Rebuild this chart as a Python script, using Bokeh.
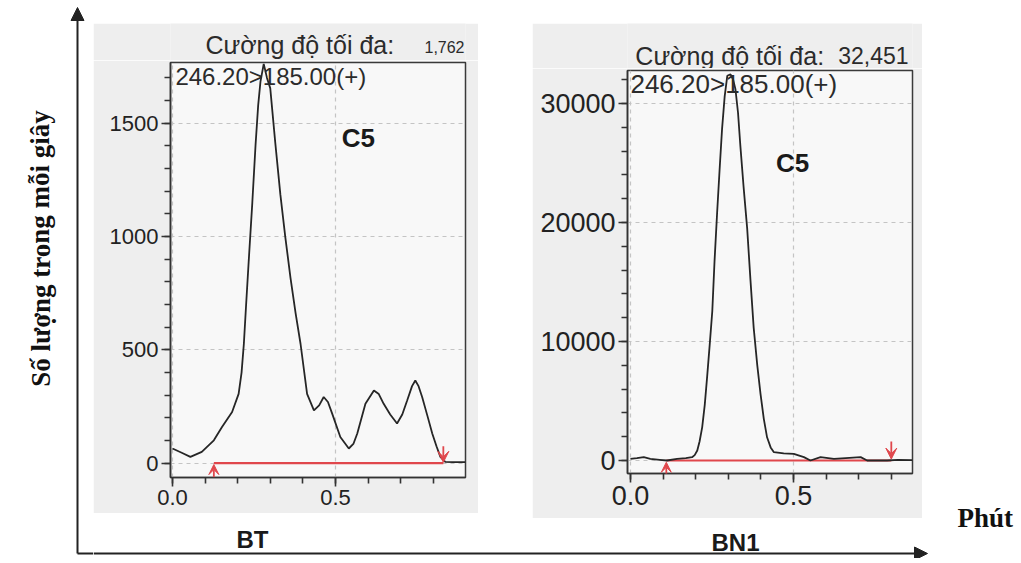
from bokeh.plotting import figure
from bokeh.layouts import row, column
from bokeh.models import (Spacer, SingleIntervalTicker, PrintfTickFormatter, Label,
                          Arrow, VeeHead, NormalHead, Range1d)
from bokeh.embed import file_html
from bokeh.resources import INLINE

# ---------------- data ----------------
bt_time = [0.0, 0.03, 0.055, 0.09, 0.127, 0.152, 0.183, 0.203, 0.212, 0.219, 0.226, 0.234,
           0.245, 0.255, 0.263, 0.27, 0.28, 0.29, 0.30, 0.315, 0.331, 0.346, 0.362, 0.378,
           0.393, 0.413, 0.434, 0.45, 0.464, 0.477, 0.49, 0.515, 0.541, 0.555, 0.567,
           0.592, 0.618, 0.633, 0.648, 0.668, 0.689, 0.705, 0.72, 0.735, 0.745, 0.755,
           0.766, 0.782, 0.797, 0.81, 0.822, 0.837, 0.86, 0.899]
bt_counts = [65, 45, 28, 50, 101, 160, 226, 306, 400, 526, 700, 893, 1150, 1406, 1580, 1684,
             1762, 1700, 1655, 1420, 1186, 1000, 819, 660, 526, 306, 233, 255, 292, 270,
             219, 116, 65, 85, 131, 262, 321, 305, 262, 215, 175, 215, 277, 340, 365, 340,
             292, 210, 131, 75, 28, 6, 5, 5]
bt_max = "1,762"
bt_integration = [0.127, 0.831]

bn1_time = [0.0, 0.02, 0.041, 0.061, 0.09, 0.112, 0.143, 0.17, 0.189, 0.197, 0.205, 0.212,
            0.22, 0.228, 0.235, 0.243, 0.251, 0.258, 0.266, 0.274, 0.281, 0.289, 0.297,
            0.307, 0.315, 0.322, 0.33, 0.337, 0.347, 0.358, 0.368, 0.378, 0.389, 0.399,
            0.409, 0.419, 0.43, 0.44, 0.47, 0.501, 0.532, 0.552, 0.583, 0.624, 0.66, 0.706,
            0.726, 0.787, 0.82, 0.865]
bn1_counts = [140, 200, 280, 140, 60, 0, 140, 200, 280, 450, 836, 1600, 2790, 4700, 6970,
              9700, 12540, 16800, 20900, 24700, 27870, 30600, 32330, 32451, 32000, 31210,
              29200, 26480, 23000, 19510, 15200, 11150, 8000, 5580, 3500, 1950, 1100, 700,
              600, 560, 280, 0, 280, 140, 200, 280, 0, 0, 60, 40]
bn1_max = "32,451"
bn1_integration = [0.11, 0.80]

title_text = "Cường độ tối đa:"
transition_text = "246.20>185.00(+)"
compound = "C5"
sample_names = ["BT", "BN1"]
y_title = "Số lượng trong mỗi giây"
x_title = "Phút"

RED = "#e0474c"
GREY_BG = "#eeeeee"
FRAME_BG = "#f8f8f8"
TXT = "#2b2b2b"


def strip(width, height, bg="white", xr=None, bl=0, br=0):
    f = figure(width=width, height=height, output_backend="svg", toolbar_location=None,
               x_range=Range1d(*(xr if xr else (0, width))), y_range=Range1d(0, height),
               min_border=0, min_border_left=bl, min_border_right=br,
               outline_line_color=None)
    f.axis.visible = False
    f.grid.visible = False
    f.border_fill_color = bg
    f.background_fill_color = bg
    return f


def title_strip(width, height, xr, borders, title_x, max_x, mid_y, title_px, max_px,
                max_text):
    s = strip(width, height, GREY_BG, xr=xr, bl=borders[0], br=borders[1])
    s.add_layout(Label(x=title_x, y=mid_y[0], text=title_text, text_align="left",
                       text_baseline="middle", text_font="Liberation Sans",
                       text_font_size=f"{title_px}px", text_color=TXT))
    s.add_layout(Label(x=max_x, y=mid_y[1], text=max_text, text_align="right",
                       text_baseline="middle", text_font="Liberation Sans",
                       text_font_size=f"{max_px}px", text_color=TXT))
    return s


def panel(t, c, width, height, borders, xr, yr, yint, tick_px, text_px,
          trans_pos, c5_pos, integ, start_arrow, end_arrow):
    p = figure(width=width, height=height, output_backend="svg", toolbar_location=None,
               x_range=Range1d(*xr), y_range=Range1d(*yr),
               min_border_left=borders[0], min_border_right=borders[1],
               min_border_top=borders[2], min_border_bottom=borders[3])
    p.border_fill_color = GREY_BG
    p.background_fill_color = FRAME_BG
    p.outline_line_color = "#3a3a3a"
    p.outline_line_width = 1.5
    xt = SingleIntervalTicker(interval=0.5, num_minor_ticks=5)
    yt = SingleIntervalTicker(interval=yint, num_minor_ticks=5)
    p.xaxis.ticker = xt
    p.yaxis.ticker = yt
    p.xgrid.ticker = xt
    p.ygrid.ticker = yt
    p.xaxis.formatter = PrintfTickFormatter(format="%.1f")
    for ax in (p.xaxis, p.yaxis):
        ax.axis_line_color = "#333333"
        ax.axis_line_width = 1.6
        ax.major_tick_line_color = "#333333"
        ax.minor_tick_line_color = "#333333"
        ax.major_tick_line_width = 1.6
        ax.minor_tick_line_width = 1.6
        ax.major_tick_out = 9
        ax.major_tick_in = 0
        ax.minor_tick_out = 6
        ax.minor_tick_in = 0
        ax.major_label_text_font = "Liberation Sans"
        ax.major_label_text_font_size = f"{tick_px}px"
        ax.major_label_text_color = "#222222"
        ax.major_label_standoff = 3
    for g in (p.xgrid, p.ygrid):
        g.grid_line_color = "#c4c4c4"
        g.grid_line_dash = "4 4"
        g.grid_line_width = 1.2

    # integration baseline (red)
    p.line(x=integ, y=[0, 0], line_color=RED, line_width=2.2)
    p.add_layout(Arrow(x_start=start_arrow[0], y_start=start_arrow[1], x_end=start_arrow[0],
                       y_end=start_arrow[2], line_color=RED, line_width=1.8,
                       end=VeeHead(size=10, line_color=RED, fill_color=RED, line_width=1)))
    p.add_layout(Arrow(x_start=end_arrow[0], y_start=end_arrow[1], x_end=end_arrow[0],
                       y_end=end_arrow[2], line_color=RED, line_width=1.8,
                       end=VeeHead(size=11, line_color=RED, fill_color=RED, line_width=1)))
    # chromatogram trace
    p.line(x=t, y=c, line_color="#262626", line_width=1.8)

    p.add_layout(Label(x=trans_pos[0], y=trans_pos[1], text=transition_text, text_align="left",
                       text_baseline="middle", text_font="Liberation Sans",
                       text_font_size=f"{text_px}px", text_color=TXT))
    p.add_layout(Label(x=c5_pos[0], y=c5_pos[1], text=compound, text_align="center",
                       text_baseline="middle", text_font="Liberation Sans",
                       text_font_style="bold", text_font_size="26px", text_color="#1a1a1a"))
    return p


# left panel: grey area x 93..478, y 23..513 (title strip 23..60, plot 60..513)
x1 = (-0.006, 0.899)
t1 = title_strip(385, 37, x1, (77, 13), 0.101, 0.896, (16, 14), 25, 16, bt_max)
p1 = panel(bt_time, bt_counts, 385, 453, (77, 13, 2, 36), x1, (-63, 1768), 500,
           22, 24, trans_pos=(0.009, 1706), c5_pos=(0.57, 1437), integ=bt_integration,
           start_arrow=(bt_integration[0], -62, -6), end_arrow=(bt_integration[1], 75, 4))

# right panel: grey area x 532..922, y 23..518 (title strip 23..68, plot 68..518)
x2 = (-0.009, 0.865)
t2 = title_strip(390, 45, x2, (95, 10), 0.015, 0.853, (13, 13), 25, 23, bn1_max)
p2 = panel(bn1_time, bn1_counts, 390, 450, (95, 10, 2, 45), x2, (-1092, 32773),
           10000, 27, 26, trans_pos=(0.0, 31600), c5_pos=(0.497, 25040),
           integ=bn1_integration,
           start_arrow=(bn1_integration[0], -1500, -150),
           end_arrow=(bn1_integration[1], 1600, 120))

H = 558
# left strip: vertical arrow + y title  (x 0..93)
left = strip(93, H)
left.line(x=[77, 93], y=[H - 553, H - 553], line_color="#222222", line_width=2)
left.add_layout(Arrow(x_start=77, y_start=H - 553, x_end=77, y_end=H - 7, line_color="#222222",
                      line_width=2, end=NormalHead(size=13, fill_color="#222222",
                                                   line_color="#222222")))
left.add_layout(Label(x=40, y=H - 248, text=y_title, angle=1.5708, text_align="center",
                      text_baseline="middle", text_font="Liberation Serif",
                      text_font_style="bold", text_font_size="27px", text_color="#111111"))

# bottom strip: horizontal arrow + sample names (x 93..928, y 518..558)
bottom = strip(835, 40)
bottom.add_layout(Arrow(x_start=0, y_start=H - 553, x_end=834, y_end=H - 553,
                        line_color="#222222", line_width=2,
                        end=NormalHead(size=13, fill_color="#222222", line_color="#222222")))
bottom.add_layout(Label(x=252 - 93, y=H - 539, text=sample_names[0], text_align="center",
                        text_baseline="middle", text_font="Liberation Sans",
                        text_font_style="bold", text_font_size="24px", text_color="#1a1a1a"))
bottom.add_layout(Label(x=735 - 93, y=16, text=sample_names[1], text_align="center",
                        text_baseline="middle", text_font="Liberation Sans",
                        text_font_style="bold", text_font_size="24px", text_color="#1a1a1a"))

# right strip: x title (x 928..1016)
right = strip(88, H)
right.add_layout(Label(x=29, y=H - 517, text=x_title, text_align="left", text_baseline="middle",
                       text_font="Liberation Serif", text_font_style="bold",
                       text_font_size="27px", text_color="#111111"))

mid = column(Spacer(width=835, height=23),
             row(column(t1, p1), Spacer(width=54, height=10), column(t2, p2),
                 Spacer(width=6, height=10)),
             bottom)
layout = row(left, mid, right)

open("out.html", "w").write(file_html(layout, INLINE))
